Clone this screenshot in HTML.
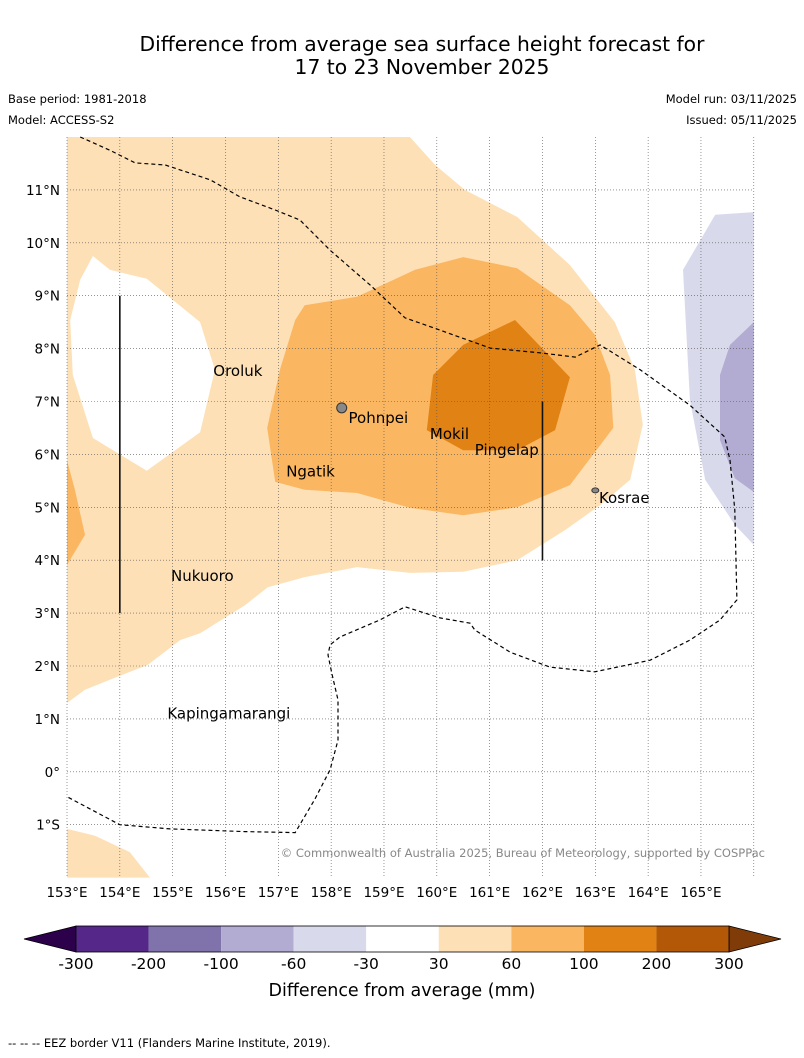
<!DOCTYPE html>
<html><head><meta charset="utf-8"><style>
body{margin:0;background:#fff;width:804px;height:1058px;overflow:hidden;font-family:"DejaVu Sans","Liberation Sans",sans-serif}
svg{position:absolute;left:0;top:0}
</style></head><body>
<svg id="s" width="804" height="1058">
<text x="422" y="51" font-size="20.3" text-anchor="middle">Difference from average sea surface height forecast for</text>
<text x="422" y="74" font-size="20.3" text-anchor="middle">17 to 23 November 2025</text>
<text x="8" y="103" font-size="11.5">Base period: 1981-2018</text>
<text x="8" y="124" font-size="11.5">Model: ACCESS-S2</text>
<text x="797" y="103" font-size="11.5" text-anchor="end">Model run: 03/11/2025</text>
<text x="797" y="124" font-size="11.5" text-anchor="end">Issued: 05/11/2025</text>
<g id="map"></g>
<text x="765" y="857" font-size="11.5" fill="#888" text-anchor="end">© Commonwealth of Australia 2025, Bureau of Meteorology, supported by COSPPac</text>
<g id="cbar"></g>
<text x="402" y="996" font-size="17.5" text-anchor="middle">Difference from average (mm)</text>
<text x="8" y="1047" font-size="11.5">--  --  -- EEZ border V11 (Flanders Marine Institute, 2019).</text>
</svg>
<script>
const lonTicks=[153,154,155,156,157,158,159,160,161,162,163,164,165];
const latTicks=[11,10,9,8,7,6,5,4,3,2,1,0,-1];
const latLabels=["11°N","10°N","9°N","8°N","7°N","6°N","5°N","4°N","3°N","2°N","1°N","0°","1°S"];
const contourLight=[[153,12],[159.49,12],[159.97,11.47],[160.53,11.0],[161.52,10.49],[162.52,9.58],[163.37,8.5],[163.75,7.6],[163.9,6.56],[163.66,5.52],[163.09,5.04],[162.43,4.57],[161.52,4.0],[160.5,3.78],[159.49,3.76],[158.49,3.87],[157.5,3.68],[156.8,3.49],[156.37,3.15],[155.52,2.62],[155.14,2.49],[154.53,2.02],[153.81,1.74],[153.34,1.55],[153,1.3]];
const contourHole=[[153.49,9.75],[153.81,9.49],[154.51,9.32],[155.52,8.5],[155.8,7.6],[155.52,6.42],[154.51,5.69],[153.49,6.31],[153.11,7.5],[153.06,8.54],[153.25,9.3]];
const contourLightSW=[[153,-1.08],[153.53,-1.21],[154.19,-1.52],[154.57,-2],[153,-2]];
const contourMidW=[[153,5.89],[153.15,5.33],[153.34,4.48],[153,3.91]];
const contourMid=[[157.5,8.82],[158.49,8.98],[159.59,9.49],[160.5,9.73],[161.52,9.52],[162.52,8.82],[162.99,8.26],[163.28,7.5],[163.34,6.5],[162.52,5.42],[161.52,5.0],[160.5,4.85],[159.49,4.99],[158.49,5.27],[157.5,5.33],[156.94,5.48],[156.79,6.5],[157.03,7.6],[157.32,8.54]];
const contourDark=[[159.93,7.5],[160.5,8.07],[161.48,8.54],[162.52,7.46],[162.24,6.46],[161.52,6.08],[160.5,6.08],[159.81,6.46]];
const contourPurple1=[[164.66,9.49],[165.27,10.53],[166,10.58],[166,4.29],[165.64,4.67],[165.08,5.52],[164.79,7.03]];
const contourPurple2=[[165.36,7.5],[165.55,8.07],[166,8.5],[166,5.29],[165.64,5.55],[165.36,6.27]];
const eezLine=[[153.25,12],[153.81,11.75],[154.29,11.51],[154.86,11.47],[155.71,11.19],[156.27,10.87],[156.94,10.62],[157.41,10.43],[157.98,9.86],[158.74,9.2],[159.4,8.58],[160.06,8.35],[161.01,8.01],[161.95,7.92],[162.62,7.84],[163.09,8.07],[163.85,7.6],[164.79,6.93],[165.45,6.33],[165.55,5.89],[165.64,4.95],[165.68,3.25],[165.36,2.87],[164.79,2.49],[164.04,2.11],[162.99,1.89],[162.14,1.98],[161.39,2.26],[160.72,2.68],[160.63,2.81],[160.06,2.91],[159.4,3.12],[158.92,2.87],[158.17,2.55],[157.98,2.4],[157.94,2.21],[158.02,1.83],[158.13,1.36],[158.13,0.6],[157.98,0.04],[157.69,-0.52],[157.32,-1.15],[156.37,-1.13],[154.95,-1.08],[154.0,-1.0],[153,-0.47]];
const islandNames=["Oroluk","Pohnpei","Mokil","Pingelap","Ngatik","Kosrae","Nukuoro","Kapingamarangi"];
const islandLon=[155.75,158.31,159.85,160.7,157.13,163.05,154.95,154.88];
const islandLat=[7.6,6.71,6.4,6.1,5.7,5.19,3.72,1.12];
const transectLon=[154,162];
const transectTop=[9,7];
const transectBot=[3,4];
const cbLabels=["-300","-200","-100","-60","-30","30","60","100","200","300"];
const cbColors=["#542788","#8073ac","#b2abd2","#d8daeb","#ffffff","#fee0b6","#fbb661","#e08214","#b35806"];

const X=lon=>67+(lon-153)*52.83;
const Y=lat=>137+(12-lat)*52.9;
const NS="http://www.w3.org/2000/svg";
const map=document.getElementById('map');
function mk(tag,attrs,parent){const e=document.createElementNS(NS,tag);for(const k in attrs)e.setAttribute(k,attrs[k]);(parent||map).appendChild(e);return e;}
const pts=a=>a.map(p=>X(p[0]).toFixed(1)+","+Y(p[1]).toFixed(1)).join(" ");
let p;
p=mk('path',{d:"M"+pts(contourLight).replace(/ /g," L")+" Z M"+pts(contourHole).replace(/ /g," L")+" Z",fill:"#fee0b6","fill-rule":"evenodd"});


p=mk('polygon',{points:pts(contourLightSW),fill:"#fee0b6"});


p=mk('polygon',{points:pts(contourMidW),fill:"#fbb661"});


p=mk('polygon',{points:pts(contourMid),fill:"#fbb661"});


p=mk('polygon',{points:pts(contourDark),fill:"#e08214"});


p=mk('polygon',{points:pts(contourPurple1),fill:"#d8daeb"});


p=mk('polygon',{points:pts(contourPurple2),fill:"#b2abd2"});


lonTicks.concat([166]).forEach((l,i)=>{
 const g=mk('line',{x1:X(l),x2:X(l),y1:137,y2:878,stroke:"#555","stroke-width":0.6,"stroke-dasharray":"1,2"});
 
 
 if(i<lonTicks.length){const t=mk('text',{x:X(l),y:897,"font-size":13.5,"text-anchor":"middle"});t.textContent=l+"°E";
 
 }
});
latTicks.forEach((l,i)=>{
 const g=mk('line',{x1:67,x2:754,y1:Y(l),y2:Y(l),stroke:"#555","stroke-width":0.6,"stroke-dasharray":"1,2"});
 
 
 const t=mk('text',{x:60,y:Y(l)+5,"font-size":13.5,"text-anchor":"end"});t.textContent=latLabels[i];
 
 
});
p=mk('polyline',{points:pts(eezLine),fill:"none",stroke:"#000","stroke-width":1.2,"stroke-dasharray":"4,3"});


transectLon.forEach((l,i)=>{
 const t=mk('line',{x1:X(l),x2:X(l),y1:Y(transectTop[i]),y2:Y(transectBot[i]),stroke:"#111","stroke-width":1.6});
 
 
});
p=mk('circle',{cx:X(158.2),cy:Y(6.88),r:5,fill:"#888",stroke:"#333","stroke-width":1});


p=mk('ellipse',{cx:X(163.0),cy:Y(5.32),rx:3.5,ry:2.5,fill:"#888",stroke:"#333","stroke-width":1});


islandNames.forEach((n,i)=>{
 const t=mk('text',{x:X(islandLon[i])+1,y:Y(islandLat[i])+6,"font-size":15});t.textContent=n;
 
 
});
const cb=document.getElementById('cbar');
const cx0=76,cw=(729-76)/cbColors.length,cy=926,ch=26;
p=mk('polygon',{points:`${cx0},${cy} 24,${cy+ch/2} ${cx0},${cy+ch}`,fill:"#2d004b",stroke:"#000","stroke-width":0.8},cb);


p=mk('polygon',{points:`729,${cy} 781,${cy+ch/2} 729,${cy+ch}`,fill:"#7f3b08",stroke:"#000","stroke-width":0.8},cb);


cbColors.forEach((c,i)=>{
 const r=mk('rect',{x:cx0+i*cw,y:cy,width:cw,height:ch,fill:c},cb);
 
 
});
p=mk('rect',{x:cx0,y:cy,width:729-cx0,height:ch,fill:"none",stroke:"#000","stroke-width":0.8},cb);


cbLabels.forEach((l,i)=>{
 const t=mk('text',{x:cx0+i*cw,y:969,"font-size":15.5,"text-anchor":"middle"},cb);t.textContent=l;
 
 
});
</script>
</body></html>
